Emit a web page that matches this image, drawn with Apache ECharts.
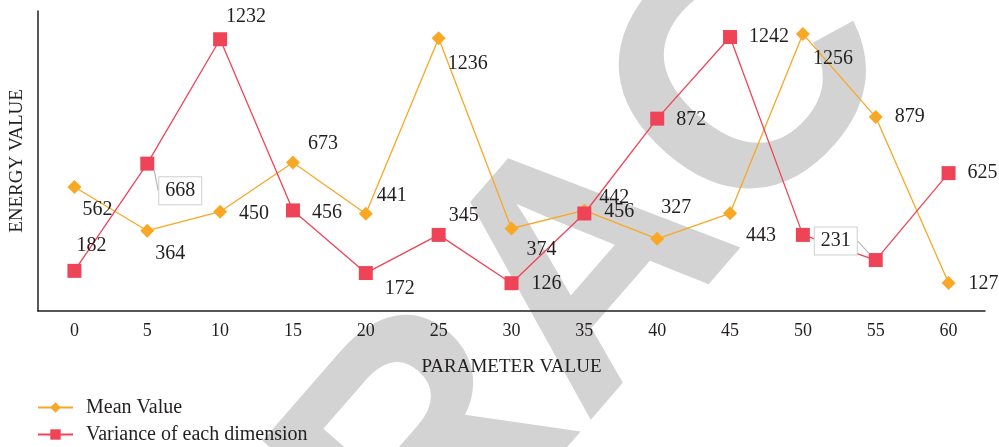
<!DOCTYPE html>
<html>
<head>
<meta charset="utf-8">
<script src="https://cdn.jsdelivr.net/npm/echarts@6/dist/echarts.min.js"></script>
<style>
  html, body { margin: 0; padding: 0; background: #fff; }
  #main { width: 999px; height: 447px; }
</style>
</head>
<body>
<div id="main"></div>
<script>
// x categories (parameter value)
var params = ['0', '5', '10', '15', '20', '25', '30', '35', '40', '45', '50', '55', '60'];
// series values
var meanValues = [562, 364, 450, 673, 441, 1236, 374, 456, 327, 443, 1256, 879, 127];
var varianceValues = [182, 668, 1232, 456, 172, 345, 126, 442, 872, 1242, 345, 231, 625];

// where each value label sits relative to its marker (null = no label)
var meanLabelOffsets = [[23, 23], [23, 23], [34, 2], [30, -19], [26, -18], [29, 25], [30, 21], [35, 1], [19, -31], [31, 22], [30, 25], [34, 0], [35, 1]];
var varLabelOffsets = [[17, -25], [33, 27], [26, -22], [34, 2], [34, 16], [25, -19], [35, 1], [30, -16], [34, 1], [39, 0], null, [-40, -19], [34, 0]];
var varBoxed = [1, 11]; // labels drawn in a callout box

var serif = '"Liberation Serif", "DejaVu Serif", serif';
var textColor = '#231f20';

function buildData(values, offsets, boxed) {
  return values.map(function (v, i) {
    if (!offsets[i]) {
      return { value: v, label: { show: false } };
    }
    var item = { value: v, label: { show: true } };
    if (boxed && boxed.indexOf(i) >= 0) {
      item.label.backgroundColor = '#fff';
      item.label.borderColor = '#cfcfcf';
      item.label.borderWidth = 1;
      item.label.padding = [4, 6, 3, 6];
      item.labelLine = { show: true, lineStyle: { color: '#b8b8b8', width: 1.2 } };
    }
    return item;
  });
}

// move labels off the marker centre
function layoutFor(offsets) {
  return function (p) {
    var off = offsets[p.dataIndex] || [0, 0];
    return { dx: off[0], dy: off[1] };
  };
}

var chartDom = document.getElementById('main');
var myChart = echarts.init(chartDom);

var option = {
  animation: false,
  backgroundColor: '#fff',
  graphic: {
    elements: [{
      type: 'text',
      silent: true,
      x: 595,
      y: 272,
      rotation: 49 * Math.PI / 180,
      z: -10,
      style: {
        text: 'RETRACTED',
        fill: '#d3d3d3',
        font: 'bold 340px "Liberation Sans", Arial, sans-serif',
        textAlign: 'center',
        textVerticalAlign: 'middle'
      }
    }]
  },
  grid: { left: 37, right: 14, top: 11, bottom: 136 },
  legend: {
    orient: 'vertical',
    left: 37,
    top: 397,
    padding: 0,
    itemWidth: 35,
    itemHeight: 13,
    itemGap: 6,
    textStyle: { fontFamily: serif, fontSize: 20, lineHeight: 21, color: textColor, padding: [0, 0, 0, 8] },
    data: ['Mean Value', 'Variance of each dimension']
  },
  xAxis: {
    type: 'category',
    data: params,
    boundaryGap: true,
    name: 'PARAMETER VALUE',
    nameLocation: 'middle',
    nameGap: 47,
    nameTextStyle: { fontFamily: serif, fontSize: 19, color: textColor },
    axisLine: { lineStyle: { color: '#231f20', width: 1.5 } },
    axisTick: { show: false },
    axisLabel: { fontFamily: serif, fontSize: 18, color: textColor, margin: 11 },
    splitLine: { show: false }
  },
  yAxis: {
    type: 'value',
    min: 0,
    max: 1360,
    name: 'ENERGY VALUE',
    nameLocation: 'middle',
    nameGap: 11,
    nameTextStyle: { fontFamily: serif, fontSize: 19, color: textColor },
    axisLine: { show: true, lineStyle: { color: '#231f20', width: 1.5 } },
    axisTick: { show: false },
    axisLabel: { show: false },
    splitLine: { show: false }
  },
  series: [
    {
      name: 'Mean Value',
      type: 'line',
      data: buildData(meanValues, meanLabelOffsets),
      symbol: 'diamond',
      symbolSize: 14,
      color: '#f9a825',
      lineStyle: { width: 1.3, color: '#f9a825' },
      label: { position: 'inside', fontFamily: serif, fontSize: 20, color: textColor },
      labelLayout: layoutFor(meanLabelOffsets)
    },
    {
      name: 'Variance of each dimension',
      type: 'line',
      data: buildData(varianceValues, varLabelOffsets, varBoxed),
      symbol: 'rect',
      symbolSize: 14,
      color: '#ef4457',
      lineStyle: { width: 1.3, color: '#ef4457' },
      label: { position: 'inside', fontFamily: serif, fontSize: 20, color: textColor },
      labelLayout: layoutFor(varLabelOffsets)
    }
  ]
};

option && myChart.setOption(option);
</script>
</body>
</html>
